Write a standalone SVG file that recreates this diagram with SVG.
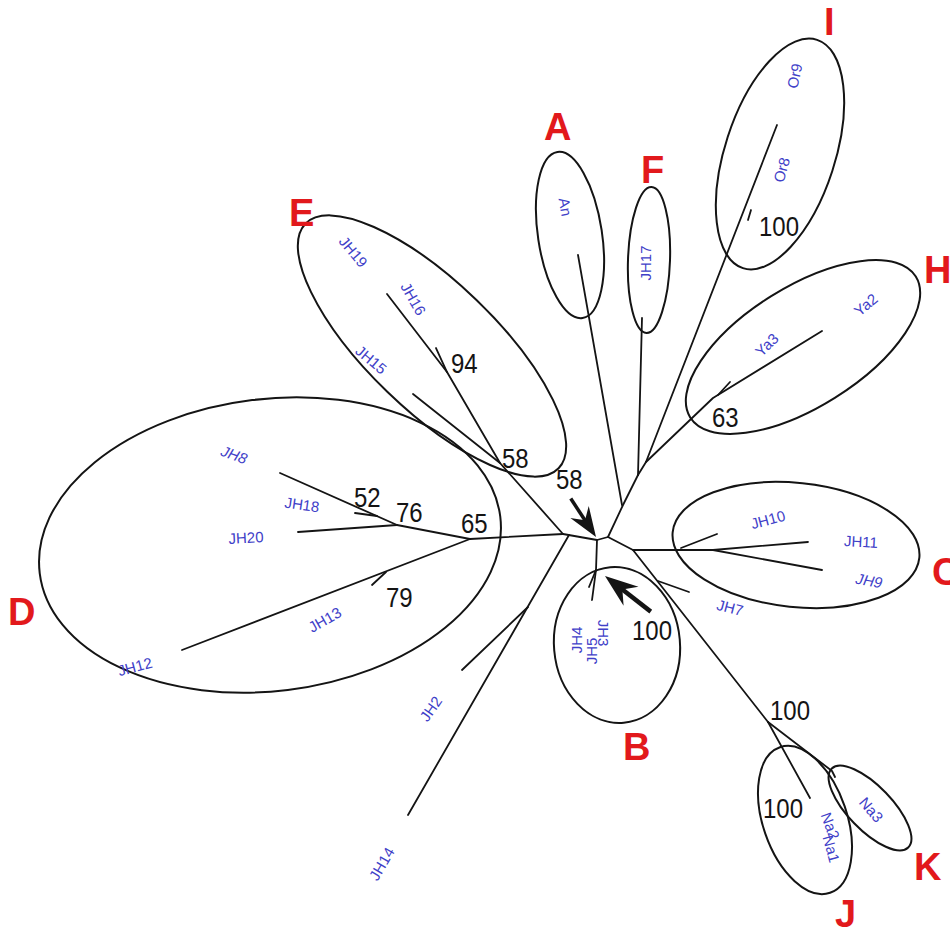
<svg xmlns="http://www.w3.org/2000/svg" width="950" height="933" viewBox="0 0 950 933">
<style>
.lbl{font-family:"Liberation Sans",Arial,sans-serif;font-size:15px;fill:#4040c8;text-anchor:middle}
.bs{font-family:"Liberation Sans",Arial,sans-serif;font-size:24px;fill:#141414}
.cl{font-family:"Liberation Sans",Arial,sans-serif;font-size:38px;font-weight:bold;fill:#e2191c}
.br{stroke:#141414;stroke-width:1.8;fill:none;stroke-linecap:round;stroke-linejoin:round}
.el{stroke:#141414;stroke-width:2;fill:none}
</style>
<defs>
<g id="arrowhead"><polygon points="0,0 -30,-11 -20,0 -30,11" fill="#141414"/></g>
</defs>
<rect width="950" height="933" fill="#ffffff"/>

<g id="connectors">
<path class="br" d="M563,534 L597,540 L608,537 L623,505 L638,475"/>
<path class="br" d="M578,255 L622,505"/>
<path class="br" d="M642,318 L638,475"/>
<path class="br" d="M638,475 L646,462 L777,125"/>
<path class="br" d="M646,462 L713,398 L822,331"/>
<path class="br" d="M730,382 L718,395"/>
<path class="br" d="M751,210 L748,220"/>
<path class="br" d="M608,537 L633,550 L713,550"/>
<path class="br" d="M681,548 L717,534"/>
<path class="br" d="M713,550 L808,542"/>
<path class="br" d="M713,550 L822,570"/>
<path class="br" d="M633,550 L768,722"/>
<path class="br" d="M658,581 L689,592"/>
<path class="br" d="M768,722 L810,798"/>
<path class="br" d="M768,722 L832,771 L835,777"/>
<path class="br" d="M597,540 L596,570 L592,600"/>
<path class="br" d="M596,570 L589,587"/>
<path class="br" d="M569,535 L408,815"/>
<path class="br" d="M528,607 L462,670"/>
<path class="br" d="M563,534 L470,539"/>
<path class="br" d="M470,539 L182,650"/>
<path class="br" d="M386,572 L372,585"/>
<path class="br" d="M470,539 L397,525 L280,473"/>
<path class="br" d="M377,516 L355,513"/>
<path class="br" d="M397,525 L298,532"/>
<path class="br" d="M563,534 L500,463 L413,394"/>
<path class="br" d="M500,463 L447,372 L387,294"/>
<path class="br" d="M436,348 L447,372"/>
</g>

<g id="arrows">
<g transform="translate(596,537) rotate(56.7)">
<line x1="-46" y1="0" x2="-18" y2="0" stroke="#141414" stroke-width="3.5"/>
<use href="#arrowhead"/>
</g>
<g transform="translate(605,576) rotate(217.9)">
<line x1="-58" y1="0" x2="-18" y2="0" stroke="#141414" stroke-width="4.5"/>
<use href="#arrowhead" transform="scale(1.1)"/>
</g>
</g>

<g id="clade-A">
<ellipse class="el" cx="570" cy="235" rx="32" ry="84" transform="rotate(-8.6 570 235)"/>
<text class="lbl" transform="translate(565,207) rotate(80)" dy="5">An</text>
<text class="cl" x="544" y="140">A</text>
</g>

<g id="clade-F">
<ellipse class="el" cx="649" cy="260" rx="21" ry="73" transform="rotate(2 649 260)"/>
<text class="lbl" transform="translate(646,263) rotate(-90)" dy="5">JH17</text>
<text class="cl" x="641" y="183">F</text>
</g>

<g id="clade-I">
<ellipse class="el" cx="780" cy="154" rx="55" ry="120" transform="rotate(18 780 154)"/>
<text class="lbl" transform="translate(795,76) rotate(-78)" dy="5">Or9</text>
<text class="lbl" transform="translate(782,170) rotate(-75)" dy="5">Or8</text>
<text class="cl" x="824" y="35">I</text>
</g>

<g id="clade-H">
<ellipse class="el" cx="803" cy="347" rx="133" ry="60" transform="rotate(-32 803 347)"/>
<text class="lbl" transform="translate(866,305) rotate(-40)" dy="5">Ya2</text>
<text class="lbl" transform="translate(767,345) rotate(-45)" dy="5">Ya3</text>
<text class="cl" x="924" y="283">H</text>
</g>

<g id="clade-E">
<ellipse class="el" cx="432" cy="346" rx="176" ry="64" transform="rotate(44 432 346)"/>
<text class="lbl" transform="translate(353,252) rotate(50)" dy="5">JH19</text>
<text class="lbl" transform="translate(413,299) rotate(60)" dy="5">JH16</text>
<text class="lbl" transform="translate(371,360) rotate(40)" dy="5">JH15</text>
<text class="cl" x="289" y="226">E</text>
</g>

<g id="clade-D">
<ellipse class="el" cx="270" cy="545" rx="232" ry="146" transform="rotate(-7 270 545)"/>
<text class="lbl" transform="translate(234,455) rotate(20)" dy="5" font-style="italic">JH8</text>
<text class="lbl" transform="translate(302,505) rotate(8)" dy="5">JH18</text>
<text class="lbl" transform="translate(246,538) rotate(-3)" dy="5">JH20</text>
<text class="lbl" transform="translate(325,620) rotate(-30)" dy="5">JH13</text>
<text class="lbl" transform="translate(135,667) rotate(-15)" dy="5">JH12</text>
<text class="cl" x="8" y="625">D</text>
</g>

<g id="clade-C">
<ellipse class="el" cx="796" cy="545" rx="124" ry="62" transform="rotate(6 796 545)"/>
<text class="lbl" transform="translate(768,520) rotate(-15)" dy="5">JH10</text>
<text class="lbl" transform="translate(861,542) rotate(3)" dy="5">JH11</text>
<text class="lbl" transform="translate(869,581) rotate(10)" dy="5" font-style="italic">JH9</text>
<text class="cl" x="932" y="585">C</text>
</g>

<g id="clade-B">
<ellipse class="el" cx="617" cy="645" rx="63" ry="78" transform="rotate(-5 617 645)"/>
<text class="lbl" transform="translate(577,640) rotate(-90)" dy="5">JH4</text>
<text class="lbl" transform="translate(592,651) rotate(-90)" dy="5">JH5</text>
<text class="lbl" transform="translate(603,633) rotate(90)" dy="5">JH3</text>
<text class="cl" x="623" y="760">B</text>
</g>

<g id="clade-J">
<ellipse class="el" cx="805" cy="820" rx="42" ry="77" transform="rotate(-19 805 820)"/>
<text class="lbl" transform="translate(830,826) rotate(70)" dy="5">Na2</text>
<text class="lbl" transform="translate(831,849) rotate(75)" dy="5">Na1</text>
<text class="cl" x="835" y="927">J</text>
</g>

<g id="clade-K">
<ellipse class="el" cx="870" cy="808" rx="55" ry="22" transform="rotate(46 870 808)"/>
<text class="lbl" transform="translate(871,810) rotate(50)" dy="5">Na3</text>
<text class="cl" x="914" y="880">K</text>
</g>

<g id="taxa-unclustered">
<text class="lbl" transform="translate(431,709) rotate(-55)" dy="5">JH2</text>
<text class="lbl" transform="translate(382,864) rotate(-60)" dy="5">JH14</text>
<text class="lbl" transform="translate(730,608) rotate(15)" dy="5">JH7</text>
</g>

<g id="bootstrap">
<text class="bs" transform="translate(759,236) scale(1,1.12)">100</text>
<text class="bs" transform="translate(712,427) scale(1,1.12)">63</text>
<text class="bs" transform="translate(451,373) scale(1,1.12)">94</text>
<text class="bs" transform="translate(502,468) scale(1,1.12)">58</text>
<text class="bs" transform="translate(354,507) scale(1,1.12)">52</text>
<text class="bs" transform="translate(396,522) scale(1,1.12)">76</text>
<text class="bs" transform="translate(461,533) scale(1,1.12)">65</text>
<text class="bs" transform="translate(386,607) scale(1,1.12)">79</text>
<text class="bs" transform="translate(556,489) scale(1,1.12)">58</text>
<text class="bs" transform="translate(632,640) scale(1,1.12)">100</text>
<text class="bs" transform="translate(770,720) scale(1,1.12)">100</text>
<text class="bs" transform="translate(763,818) scale(1,1.12)">100</text>
</g>
</svg>
